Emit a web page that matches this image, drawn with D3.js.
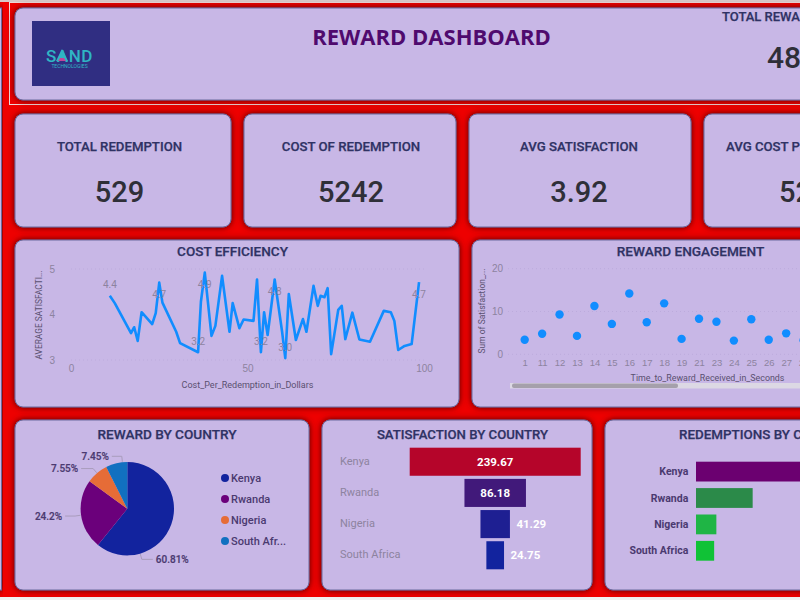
<!DOCTYPE html>
<html>
<head>
<meta charset="utf-8">
<script src="https://cdn.jsdelivr.net/npm/d3@7"></script>
<style>
  html, body { margin: 0; padding: 0; overflow: hidden; background: #f0f0f0; }
  svg { display: block; font-family: Roboto, sans-serif; }
</style>
</head>
<body>
<svg id="dashboard" width="800" height="600"></svg>
<script>
const kpiTitles = ['TOTAL REDEMPTION', 'COST OF REDEMPTION', 'AVG SATISFACTION', 'AVG COST PER REDEMPTION']
const kpiValues = ['529', '5242', '3.92', '52']

const costX = [11, 12.4, 17, 17.9, 18.9, 20, 23, 24, 25, 25.9, 29.8, 30.9, 36, 36.8, 37.9, 39.8, 40.9, 42.8, 44.9, 45.8, 47.7, 48.9, 51.7, 52.7, 53.8, 54.7, 55.7, 57.7, 59.8, 60.7, 61.7, 63.7, 65.7, 66.7, 68.7, 69.9, 70.7, 71.8, 72.7, 73.7, 75.7, 76.7, 77.7, 79.7, 81.7, 84.7, 88.6, 90.6, 91.6, 92.7, 94.5, 96.5, 98.6]
const costY = [4.41, 4.25, 3.59, 3.72, 3.42, 4.05, 3.79, 4.03, 4.7, 4.26, 3.62, 3.37, 3.17, 4.28, 4.92, 3.53, 3.75, 4.85, 3.62, 4.25, 3.7, 3.89, 3.86, 4.77, 3.17, 4.05, 3.55, 4.77, 3.62, 3.04, 4.45, 3.44, 3.9, 3.62, 4.63, 4.19, 4.41, 4.38, 4.58, 3.13, 4.1, 4.19, 3.46, 4.04, 3.45, 3.4, 4.08, 4.05, 3.86, 3.22, 3.31, 3.35, 4.71]
const labelledAbove = [11, 36, 53.8, 60.7]
const labelledBelow = [25, 37.9, 57.7, 98.6]

const seconds = ['1', '11', '12', '13', '14', '15', '16', '17', '18', '19', '21', '23', '24', '25', '26', '27', '28']
const satisfactionSum = [3.4, 4.8, 9.3, 4.3, 11.3, 7.1, 14.2, 7.5, 11.9, 3.6, 8.3, 7.6, 3.2, 8.2, 3.4, 4.9, 3.3]

const countries = ['Kenya', 'Rwanda', 'Nigeria', 'South Africa']
const rewardShare = [60.81, 24.2, 7.55, 7.45]
const rewardLabels = ['60.81%', '24.2%', '7.55%', '7.45%']
const legendNames = ['Kenya', 'Rwanda', 'Nigeria', 'South Afr...']
const satisfaction = [239.67, 86.18, 41.29, 24.75]
const redemptions = [314, 128, 46, 41]

const pieColors = ['#12239e', '#6b007b', '#e66c37', '#1170c0']
const funnelColors = ['#b5052a', '#41197a', '#1e1f92', '#12239e']
const barColors = ['#6b0070', '#2b8a49', '#1fb545', '#10c236']
const navy = '#2f3264'
const grayText = '#8d839f'
const darkLabel = '#4b3a70'

const svg = d3.select('#dashboard')

const defs = svg.append('defs')
const shadow = defs.append('filter').attr('id', 'shadow')
  .attr('x', '-5%').attr('y', '-10%').attr('width', '110%').attr('height', '120%')
shadow.append('feDropShadow')
  .attr('dx', 0).attr('dy', 0).attr('stdDeviation', 3)
  .attr('flood-color', '#4a0000').attr('flood-opacity', 1)

svg.append('rect').attr('width', 800).attr('height', 597).attr('fill', '#ee0000')

const card = (x, y, w, h, r = 8) => {
  svg.append('rect')
    .attr('x', x).attr('y', y).attr('width', w).attr('height', h).attr('rx', r)
    .attr('fill', '#c8b7e6')
    .attr('stroke', '#6a6a9e')
    .attr('stroke-width', 1)
    .attr('filter', 'url(#shadow)')
}

const label = (x, y, text, size, color, weight = 500, anchor = 'middle') =>
  svg.append('text')
    .attr('x', x).attr('y', y)
    .attr('text-anchor', anchor)
    .attr('dominant-baseline', 'central')
    .attr('font-size', size)
    .attr('font-weight', weight)
    .attr('fill', color)
    .text(text)

// card titles are heavier than roboto medium but must stay this narrow
const title = (x, y, text, size, anchor = 'middle') =>
  label(x, y, text, size, navy, 500, anchor)
    .attr('stroke', navy)
    .attr('stroke-width', 0.25)

// page edges
card(-20, 8, 21.5, 582, 0)
svg.append('rect')
  .attr('x', 9.5).attr('y', 2.5).attr('width', 830).attr('height', 102)
  .attr('fill', 'none').attr('stroke', '#eed8d8').attr('stroke-width', 1)
svg.append('rect').attr('width', 800).attr('height', 2).attr('fill', '#d8c8c8')

// header
card(15, 8, 810, 92)
svg.append('rect').attr('x', 32).attr('y', 21).attr('width', 78).attr('height', 65).attr('fill', '#302e82')
label(69.5, 55.5, 'SAND', 17, '#2fb5c4', 500).attr('letter-spacing', 0.6)
svg.append('path').attr('d', 'M62 49 L68 61 L56 61 Z').attr('fill', '#2fb5c4')
svg.append('path').attr('d', 'M60 58 L64 58 L66 61 L58 61 Z').attr('fill', '#c0449a')
label(69.5, 66, 'TECHNOLOGIES', 5, '#2fb5c4', 400)
label(431.5, 36, 'REWARD DASHBOARD', 22, '#4f0a6e', 700).attr('font-family', '"Open Sans"')
title(722, 16, 'TOTAL REWARDS', 13, 'start')
label(767, 57, '48', 30, '#2f2f38', 500, 'start')

// kpi cards
const kpiBoxes = [[15, 216], [244, 212], [469, 222], [704, 210]]
const kpiCentres = [119.5, 351, 579]
kpiBoxes.forEach(([x, w], i) => {
  card(x, 114, w, 113)
  if (i < 3) {
    title(kpiCentres[i], 146, kpiTitles[i], 13.2)
    label(kpiCentres[i], 192, kpiValues[i], 29, '#2f2f38')
  } else {
    title(726, 146, kpiTitles[i], 13.2, 'start')
    label(779, 192, kpiValues[i], 29, '#2f2f38', 500, 'start')
  }
})

const styleAxis = (g, size = 10) => {
  g.select('.domain').remove()
  g.selectAll('.tick text').attr('fill', grayText).attr('font-size', size)
  g.selectAll('.tick line').remove()
}

// cost efficiency line
card(15, 240, 444, 167)
title(232.5, 251, 'COST EFFICIENCY', 13.5)

const lineX = d3.scaleLinear().domain([0, 100]).range([71, 424])
const lineY = d3.scaleLinear().domain([3, 5]).range([360, 269])

const lineGrid = svg.append('g').attr('stroke', '#bcabdc').attr('stroke-dasharray', '1 3')
;[3, 5].forEach(v => {
  lineGrid.append('line').attr('x1', 71).attr('x2', 424).attr('y1', lineY(v)).attr('y2', lineY(v))
})

svg.append('g')
  .attr('transform', 'translate(60,0)')
  .call(d3.axisLeft(lineY).tickValues([3, 4, 5]).tickFormat(d3.format('d')).tickSize(0).tickPadding(5))
  .call(styleAxis)
svg.append('g')
  .attr('transform', 'translate(0,365)')
  .call(d3.axisBottom(lineX).tickValues([0, 50, 100]).tickSize(0).tickPadding(0))
  .call(styleAxis)

const costPoints = costX.map((x, i) => ({ x, y: costY[i] }))
svg.append('path')
  .datum(costPoints)
  .attr('fill', 'none')
  .attr('stroke', '#118dff')
  .attr('stroke-width', 2.6)
  .attr('stroke-linejoin', 'round')
  .attr('d', d3.line().x(d => lineX(d.x)).y(d => lineY(d.y)))

costPoints
  .filter(d => labelledAbove.includes(d.x) || labelledBelow.includes(d.x))
  .forEach(d => {
    const dy = labelledAbove.includes(d.x) ? -11 : 12
    label(lineX(d.x), lineY(d.y) + dy, d3.format('.1f')(d.y), 10, grayText, 400)
  })

label(0, 0, 'AVERAGE SATISFACTI...', 8.4, '#5a5070', 400)
  .attr('transform', 'translate(39,315) rotate(-90)')
label(247.5, 385, 'Cost_Per_Redemption_in_Dollars', 9, '#5a5070', 400)

// reward engagement scatter
card(472, 240, 350, 167)
title(690.5, 250.5, 'REWARD ENGAGEMENT', 13.6)

const dotX = d3.scalePoint().domain(seconds).range([524.7, 803.6])
const dotY = d3.scaleLinear().domain([0, 20]).range([354.3, 268.7])

const dotGrid = svg.append('g').attr('stroke', '#bcabdc').attr('stroke-dasharray', '1 3')
dotY.ticks(2).forEach(v => {
  dotGrid.append('line').attr('x1', 508).attr('x2', 800).attr('y1', dotY(v)).attr('y2', dotY(v))
})

svg.append('g')
  .attr('transform', 'translate(508,0)')
  .call(d3.axisLeft(dotY).tickValues([0, 10, 20]).tickSize(0).tickPadding(5))
  .call(styleAxis)
svg.append('g')
  .attr('transform', 'translate(0,359)')
  .call(d3.axisBottom(dotX).tickSize(0).tickPadding(0))
  .call(styleAxis, 9.5)

svg.append('g')
  .selectAll('circle')
  .data(seconds)
  .join('circle')
  .attr('cx', d => dotX(d))
  .attr('cy', (d, i) => dotY(satisfactionSum[i]))
  .attr('r', 4.2)
  .attr('fill', '#118dff')

label(0, 0, 'Sum of Satisfaction_...', 8.5, '#5a5070', 400)
  .attr('transform', 'translate(482,311) rotate(-90)')
label(707.5, 378, 'Time_to_Reward_Received_in_Seconds', 8.85, '#5a5070', 400)

svg.append('rect').attr('x', 510).attr('y', 383).attr('width', 300).attr('height', 5.5).attr('fill', '#dcd8e4')
svg.append('rect').attr('x', 512).attr('y', 383.5).attr('width', 166).attr('height', 4.5).attr('rx', 2).attr('fill', '#a5a0ab')

// reward by country pie
card(15, 420, 294, 170)
title(167, 434, 'REWARD BY COUNTRY', 13.6)

const pieCx = 127.3
const pieCy = 508.7
const pieR = 46.7
const slices = d3.pie().sort(null)(rewardShare)
const sliceArc = d3.arc().innerRadius(0).outerRadius(pieR)

const pieG = svg.append('g').attr('transform', `translate(${pieCx},${pieCy})`)
pieG.selectAll('path')
  .data(slices)
  .join('path')
  .attr('d', sliceArc)
  .attr('fill', (d, i) => pieColors[i])

// leader start angles in degrees, the biggest one is pushed down like in powerbi
const leaderAngles = [164, 262, 319.6, 354]
const leaderLength = [11, 10, 12, 10]
const polar = (deg, r) => {
  const a = deg * Math.PI / 180
  return [pieCx + Math.sin(a) * r, pieCy - Math.cos(a) * r]
}
leaderAngles.forEach((deg, i) => {
  const start = polar(deg, pieR + 0.5)
  const knee = polar(deg, pieR + 6)
  const dir = deg < 180 ? 1 : -1
  const end = [knee[0] + dir * leaderLength[i], knee[1]]
  svg.append('path')
    .attr('d', d3.line()([start, knee, end]))
    .attr('fill', 'none')
    .attr('stroke', '#a99cbc')
    .attr('stroke-width', 1)
  label(end[0] + dir * 3, end[1], rewardLabels[i], 10, darkLabel, 500, dir > 0 ? 'start' : 'end')
    .attr('stroke', darkLabel)
    .attr('stroke-width', 0.2)
})

const legendY = d3.scalePoint().domain(legendNames).range([478, 541])
legendNames.forEach((name, i) => {
  svg.append('circle').attr('cx', 225).attr('cy', legendY(name)).attr('r', 4).attr('fill', pieColors[i])
  label(231, legendY(name), name, 11, darkLabel, 500, 'start')
})

// satisfaction funnel
card(322, 420, 270, 170)
title(462.5, 434, 'SATISFACTION BY COUNTRY', 13.2)

const funnelW = d3.scaleLinear().domain([0, d3.max(satisfaction)]).range([0, 171])
const funnelY = d3.scaleBand().domain(countries).range([447.7, 569.3]).paddingInner(0.1)
const funnelMid = 495.2

countries.forEach((name, i) => {
  const w = funnelW(satisfaction[i])
  const mid = funnelY(name) + funnelY.bandwidth() / 2
  svg.append('rect')
    .attr('x', funnelMid - w / 2).attr('y', funnelY(name))
    .attr('width', w).attr('height', funnelY.bandwidth())
    .attr('fill', funnelColors[i])
  label(340, mid - 0.5, name, 11, grayText, 400, 'start')
  const inside = w > 40
  label(inside ? funnelMid : funnelMid + w / 2 + 6.5, mid, satisfaction[i], 11.5, '#ffffff', 700, inside ? 'middle' : 'start')
})

// redemptions bars
card(605, 420, 230, 170)
title(679, 434, 'REDEMPTIONS BY COUNTRY', 13.4, 'start')

const barX = d3.scaleLinear().domain([0, d3.max(redemptions)]).range([0, 139])
const barY = d3.scaleBand().domain(countries).range([461.7, 560.7]).paddingInner(0.25)

svg.append('g')
  .attr('transform', 'translate(696,0)')
  .selectAll('rect')
  .data(redemptions)
  .join('rect')
  .attr('y', (d, i) => barY(countries[i]))
  .attr('width', d => barX(d))
  .attr('height', barY.bandwidth())
  .attr('fill', (d, i) => barColors[i])

countries.forEach(name => {
  label(688.3, barY(name) + barY.bandwidth() / 2, name, 10.5, darkLabel, 700, 'end')
})
</script>
</body>
</html>
